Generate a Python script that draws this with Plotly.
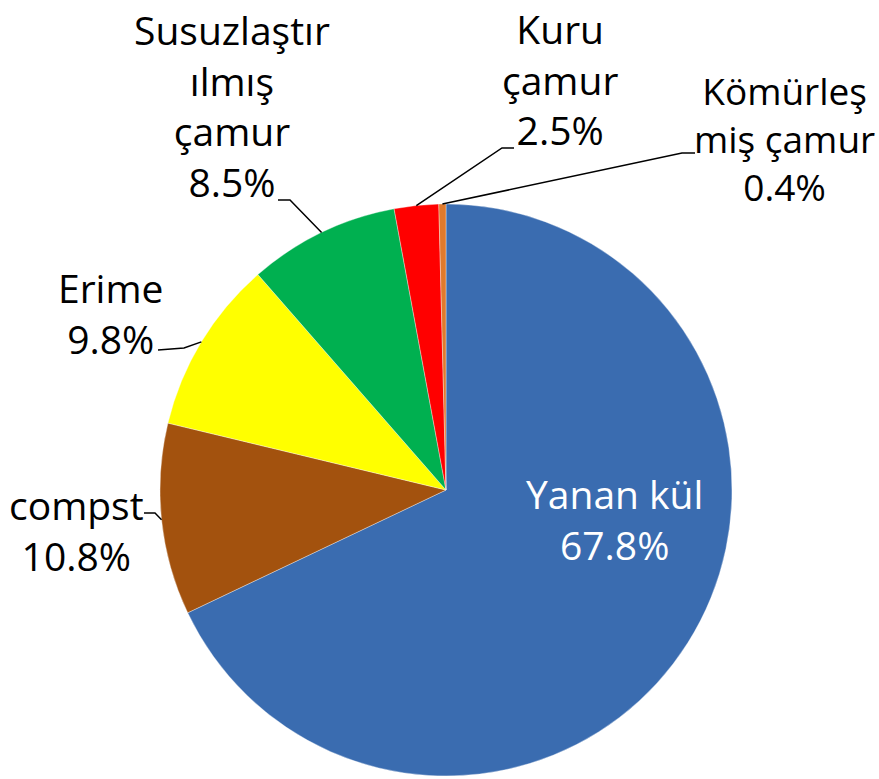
import math
import plotly.graph_objects as go

# ---- data ----
labels = ["Yanan kül", "compst", "Erime", "Susuzlaştırılmış çamur", "Kuru çamur", "Kömürleşmiş çamur"]
label_text = ["Yanan kül<br>67.8%", "compst<br>10.8%", "Erime<br>9.8%",
              "Susuzlaştır<br>ılmış<br>çamur<br>8.5%", "Kuru<br>çamur<br>2.5%",
              "Kömürleş<br>miş çamur<br>0.4%"]
values = [67.8, 10.8, 9.8, 8.5, 2.5, 0.4]
colors = ["#3A6CB0", "#A3520E", "#FFFF00", "#00B050", "#FF0000", "#E07A2C"]

# ---- layout (pixels) ----
W, H = 879, 779
CX, CY, R = 446, 490, 286
FONT = "'Open Sans', Carlito, Calibri, sans-serif"

# label centers (px), font sizes and leader elbows/ends (px), per slice
label_pos = [(614, 519), (76, 530), (111, 313), (232, 105), (560, 79), (784, 139)]
label_size = [39, 39, 39, 39, 39, 37]
leader = [None, [(155, 513), (144, 513)], [(184, 348), (158, 350)],
          [(290, 200), (278, 200)], [(502, 148), (514, 148)], [(682, 153), (695, 153)]]
font_colors = ["white", "black", "black", "black", "black", "black"]


def px(x):
    return x / W


def py(y):
    return 1 - y / H


fig = go.Figure(go.Pie(
    labels=labels, values=values, sort=False, direction="clockwise", rotation=0,
    marker=dict(colors=colors, line=dict(color="rgba(255,255,255,0.35)", width=1)),
    textinfo="none", hoverinfo="label+percent", showlegend=False,
    domain=dict(x=[px(CX - R), px(CX + R)], y=[py(CY + R), py(CY - R)]),
))

annotations = []
shapes = []
total = sum(values)
cum = 0.0
for i, v in enumerate(values):
    mid = (cum + v / 2) / total * 2 * math.pi
    cum += v
    ex, ey = CX + R * math.sin(mid), CY - R * math.cos(mid)
    lx, ly = label_pos[i]
    annotations.append(dict(
        x=px(lx), y=py(ly), xref="paper", yref="paper", text=label_text[i],
        showarrow=False, xanchor="center", yanchor="middle", align="center",
        font=dict(family=FONT, size=label_size[i], color=font_colors[i])))
    if leader[i]:
        pts = [(ex, ey)] + leader[i]
        path = "M " + " L ".join(f"{px(a)},{py(b)}" for a, b in pts)
        shapes.append(dict(type="path", xref="paper", yref="paper", path=path,
                           line=dict(color="black", width=1.5)))

fig.update_layout(
    width=W, height=H, margin=dict(l=0, r=0, t=0, b=0),
    paper_bgcolor="white", plot_bgcolor="white",
    annotations=annotations, shapes=shapes,
)
fig.write_html("out.html", config={"displayModeBar": False},
               post_script="document.body.style.margin='0px';")
